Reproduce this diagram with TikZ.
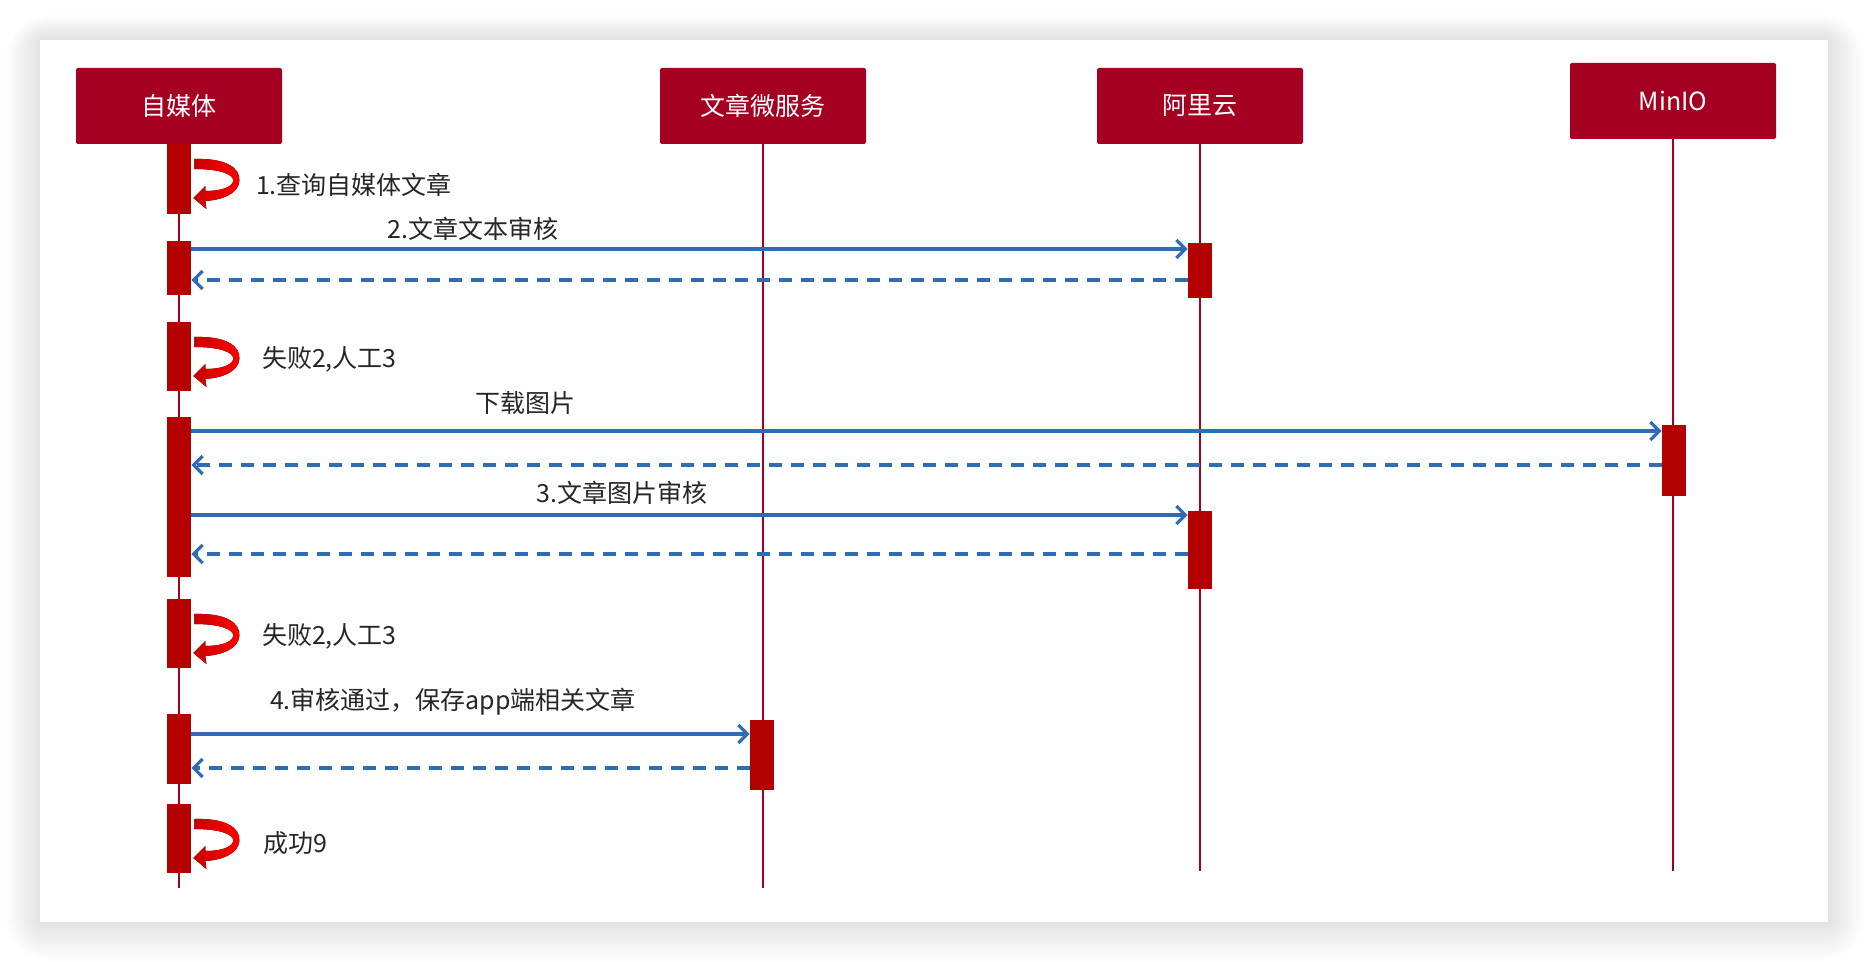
\documentclass[tikz,border=0pt]{standalone}
\usepackage{fontspec}
\newfontfamily\cjk{Noto Sans CJK SC}
\usetikzlibrary{arrows.meta}
\definecolor{hdred}{HTML}{A50021}
\definecolor{barred}{HTML}{B40000}
\definecolor{msgblue}{HTML}{2E6DB4}
\newcommand\selfcall[1]{%
 \fill[left color=red!78!black,right color=red,shift={(#1.north east)}]
  (3,15) .. controls (33,14) and (49,23) .. (48,37)
  .. controls (47,50) and (30,56) .. (14,57)
  -- (15,65) -- (2,54) -- (14,42) -- (14,47)
  .. controls (28,47) and (40,44) .. (42,37)
  .. controls (42,30) and (28,25) .. (3,25) -- cycle;}
\begin{document}
\begin{tikzpicture}[x=0.5pt,y=-0.5pt,
 every node/.style={font=\cjk\fontsize{12.5}{15}\selectfont},
 head/.style={fill=hdred,text=white,minimum width=103pt,minimum height=38pt,rounded corners=1pt},
 life/.style={hdred,line width=1.2pt},
 bar/.style={fill=barred,minimum width=12pt,inner sep=0pt,anchor=north},
 msg/.style={msgblue,line width=1.6pt,-{Straight Barb[length=4.5pt,width=9pt]}},
 back/.style={msg,dash pattern=on 6.5pt off 4.5pt},
 lbl/.style={text=black!85}]
 \useasboundingbox (0,0) rectangle (1868,962);
 \foreach \i in {1,...,28}
  \fill[black,opacity=0.0028,rounded corners=\i*0.8pt] (40-\i*1.2,40-\i*0.9) rectangle (1828+\i*1.3,922+\i*1.4);
 \fill[white] (40,40) rectangle (1828,922);

 \node[head] (zm) at (179,106) {自媒体};
 \node[head] (wz) at (763,106) {文章微服务};
 \node[head] (al) at (1200,106) {阿里云};
 \node[head] (mi) at (1673,101) {MinIO};
 \coordinate (zmEnd) at (179,888);
 \coordinate (wzEnd) at (763,888);
 \coordinate (alEnd) at (1200,871);
 \coordinate (miEnd) at (1673,871);
 \draw[life] (zm.south) -- (zmEnd);
 \draw[life] (wz.south) -- (wzEnd);
 \draw[life] (al.south) -- (alEnd);
 \draw[life] (mi.south) -- (miEnd);

 \node[bar,minimum height=35pt] (z1) at (179,144) {};
 \node[bar,minimum height=27pt] (z2) at (179,241) {};
 \node[bar,minimum height=34.5pt] (z3) at (179,322) {};
 \node[bar,minimum height=80pt] (z4) at (179,417) {};
 \node[bar,minimum height=34.5pt] (z5) at (179,599) {};
 \node[bar,minimum height=35pt] (z6) at (179,714) {};
 \node[bar,minimum height=34.5pt] (z7) at (179,804) {};
 \node[bar,minimum height=27.5pt] (a1) at (1200,243) {};
 \node[bar,minimum height=39pt] (a2) at (1200,511) {};
 \node[bar,minimum height=35.5pt] (m1) at (1674,425) {};
 \node[bar,minimum height=35pt] (w1) at (762,720) {};

 \selfcall{z1}
 \selfcall{z3}
 \selfcall{z5}
 \selfcall{z7}
 \node[lbl,anchor=west] (s1) at (249,185) {1.查询自媒体文章};
 \node[lbl,anchor=west] (s3) at (255,359) {失败2,人工3};
 \node[lbl,anchor=west] (s5) at (255,636) {失败2,人工3};
 \node[lbl,anchor=west] (s7) at (256,843) {成功9};

 \draw[msg] (z2.east |- 0,249) -- (a1.west |- 0,249);
 \draw[back] (a1.west |- 0,280) -- (z2.east |- 0,280);
 \node[lbl] (l2) at (473,229) {2.文章文本审核};
 \draw[msg] (z4.east |- 0,431) -- (m1.west |- 0,431);
 \draw[back] (m1.west |- 0,465) -- (z4.east |- 0,465);
 \node[lbl] (lp) at (525,403) {下载图片};
 \draw[msg] (z4.east |- 0,515) -- (a2.west |- 0,515);
 \draw[back] (a2.west |- 0,554) -- (z4.east |- 0,554);
 \node[lbl] (l3) at (622,493) {3.文章图片审核};
 \draw[msg] (z6.east |- 0,734) -- (w1.west |- 0,734);
 \draw[back] (w1.west |- 0,768) -- (z6.east |- 0,768);
 \node[lbl] (l4) at (453,702) {4.审核通过，保存app端相关文章};
\end{tikzpicture}
\end{document}
